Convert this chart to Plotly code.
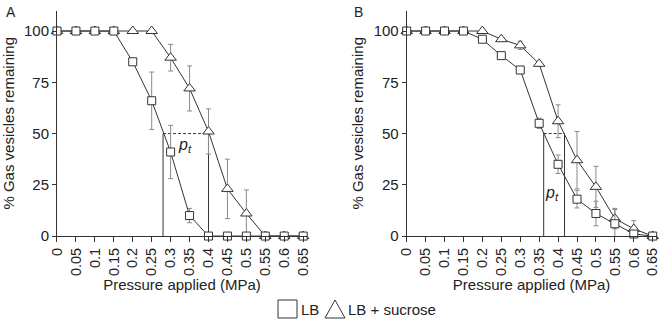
import plotly.graph_objects as go

pressure = [0, 0.05, 0.1, 0.15, 0.2, 0.25, 0.3, 0.35, 0.4, 0.45, 0.5, 0.55, 0.6, 0.65]
tick_labels = ["0", "0.05", "0.1", "0.15", "0.2", "0.25", "0.3", "0.35", "0.4", "0.45", "0.5", "0.55", "0.6", "0.65"]

# Panel A
a_lb = [100, 100, 100, 100, 85, 66, 41, 10, 0, 0, 0, 0, 0, 0]
a_lb_err = [0, 0, 0, 0, 0, 14, 13, 3.5, 0, 0, 0, 0, 0, 0]
a_suc = [100, 100, 100, 100, 100, 100, 87, 72, 51, 23, 11, 0, 0, 0]
a_suc_err = [0, 0, 0, 0, 0, 0, 6.5, 11, 11, 14.5, 11.5, 0, 0, 0]
a_pt = [0.28, 0.40]

# Panel B
b_lb = [100, 100, 100, 100, 96, 88, 81, 55, 35, 18, 11, 6, 1, 0]
b_lb_err = [0, 0, 0, 0, 0, 0, 1.5, 2.5, 4.5, 4.3, 6, 7, 0, 0]
b_suc = [100, 100, 100, 100, 100, 96, 93, 84, 56, 37, 24, 8.5, 3.5, 0]
b_suc_err = [0, 0, 0, 0, 0, 0, 2, 0, 8, 14, 10, 5, 4, 0]
b_pt = [0.362, 0.417]

pt_level = 50

series_names = ["LB", "LB + sucrose"]

FONT = "Liberation Sans, Arial, sans-serif"
LINE = "#333333"
ERR = "#8a8a8a"
TXT = "#222222"

W, H = 662, 319

fig = go.Figure()


def add_panel(xa, ya, lb, lb_err, suc, suc_err, pt, label_pos):
    for p in pt:
        fig.add_trace(go.Scatter(x=[p, p], y=[0, pt_level], mode="lines",
                                 line=dict(color=LINE, width=1), xaxis=xa, yaxis=ya,
                                 showlegend=False, hoverinfo="skip"))
    fig.add_trace(go.Scatter(x=pt, y=[pt_level, pt_level], mode="lines",
                             line=dict(color=LINE, width=1, dash="3px,2px"), xaxis=xa, yaxis=ya,
                             showlegend=False, hoverinfo="skip"))
    fig.add_trace(go.Scatter(x=pressure, y=suc, mode="lines+markers", xaxis=xa, yaxis=ya,
                             name=series_names[1],
                             line=dict(color=LINE, width=1),
                             marker=dict(symbol="triangle-up", size=10, color="white",
                                         line=dict(color=LINE, width=1)),
                             error_y=dict(type="data", array=suc_err, color=ERR, thickness=1, width=2.5),
                             cliponaxis=False, showlegend=False))
    fig.add_trace(go.Scatter(x=pressure, y=lb, mode="lines+markers", xaxis=xa, yaxis=ya,
                             name=series_names[0],
                             line=dict(color=LINE, width=1),
                             marker=dict(symbol="square", size=8, color="white",
                                         line=dict(color=LINE, width=1)),
                             error_y=dict(type="data", array=lb_err, color=ERR, thickness=1, width=2.5),
                             cliponaxis=False, showlegend=False))
    fig.add_annotation(x=label_pos[0], y=label_pos[1], xref=xa, yref=ya,
                       text="<i>p</i><sub><i>t</i></sub>", showarrow=False,
                       font=dict(family=FONT, size=16, color=TXT))


add_panel("x", "y", a_lb, a_lb_err, a_suc, a_suc_err, a_pt, (0.338, 44))
add_panel("x2", "y2", b_lb, b_lb_err, b_suc, b_suc_err, b_pt, (0.383, 21))

xaxis_common = dict(range=[0, 0.66], tickvals=pressure, ticktext=tick_labels, tickangle=-90,
                    showline=True, linecolor=LINE, linewidth=1, ticks="outside", ticklen=5,
                    tickcolor=LINE, showgrid=False, zeroline=False, automargin=False,
                    tickfont=dict(family=FONT, size=14.5, color=TXT),
                    title=dict(text="Pressure applied (MPa)", font=dict(family=FONT, size=15, color=TXT),
                               standoff=4))
yaxis_common = dict(range=[0, 110], tickvals=[0, 25, 50, 75, 100],
                    showline=True, linecolor=LINE, linewidth=1, ticks="outside", ticklen=4,
                    tickcolor=LINE, showgrid=False, zeroline=False, automargin=False,
                    tickfont=dict(family=FONT, size=15, color=TXT),
                    title=dict(text="% Gas vesicles remaining", font=dict(family=FONT, size=15, color=TXT),
                               standoff=6))


def px(x):
    return x / W


def py(y):
    return 1 - y / H


# manual legend (square + triangle icons with labels)
shapes = [
    dict(type="rect", xref="paper", yref="paper", x0=px(278), x1=px(297), y0=py(318), y1=py(300),
         line=dict(color=LINE, width=1), fillcolor="white"),
    dict(type="path", xref="paper", yref="paper",
         path=f"M {px(325)} {py(318)} L {px(345)} {py(318)} L {px(335)} {py(300)} Z",
         line=dict(color=LINE, width=1), fillcolor="white"),
]

annotations = list(fig.layout.annotations) + [
    dict(text="A", x=px(4), y=py(2), xref="paper", yref="paper", xanchor="left", yanchor="top",
         showarrow=False, font=dict(family=FONT, size=14, color=TXT)),
    dict(text="B", x=px(352), y=py(2), xref="paper", yref="paper", xanchor="left", yanchor="top",
         showarrow=False, font=dict(family=FONT, size=14, color=TXT)),
    dict(text=series_names[0], x=px(299), y=py(309), xref="paper", yref="paper", xanchor="left",
         yanchor="middle", showarrow=False, font=dict(family=FONT, size=15, color=TXT)),
    dict(text=series_names[1], x=px(346), y=py(309), xref="paper", yref="paper", xanchor="left",
         yanchor="middle", showarrow=False, font=dict(family=FONT, size=15, color=TXT)),
]

fig.update_layout(
    width=W, height=H,
    margin=dict(l=0, r=0, t=0, b=0),
    paper_bgcolor="white", plot_bgcolor="white",
    xaxis=dict(domain=[0.0861, 0.4637], anchor="y", **xaxis_common),
    yaxis=dict(domain=[0.260, 0.967], anchor="x", **yaxis_common),
    xaxis2=dict(domain=[0.6143, 0.9917], anchor="y2", **xaxis_common),
    yaxis2=dict(domain=[0.260, 0.967], anchor="x2", **yaxis_common),
    showlegend=False,
    shapes=shapes,
    annotations=annotations,
)

fig.write_html("out.html", config={"displayModeBar": False},
               post_script="document.body.style.margin='0';document.body.style.overflow='hidden';")
